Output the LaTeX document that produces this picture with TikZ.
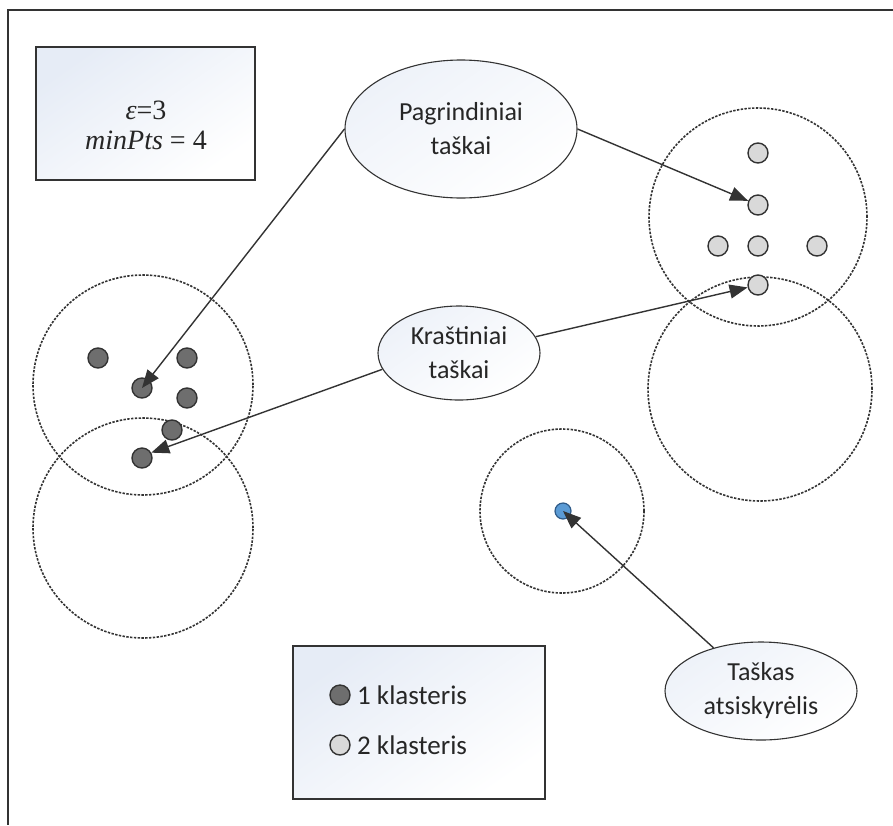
\documentclass[tikz,border=0pt]{standalone}
\usepackage{fontspec}
\setmainfont{Carlito}
\newfontfamily\paramfont{Liberation Serif}
\usetikzlibrary{shapes.geometric,arrows.meta}

\definecolor{edge}{HTML}{333333}
\definecolor{ink}{HTML}{262626}
\definecolor{darkpt}{HTML}{6E6E6E}
\definecolor{lightpt}{HTML}{D9D9D9}
\definecolor{bluept}{HTML}{5B9BD5}
\definecolor{bluerim}{HTML}{2E5A88}
\definecolor{tint}{HTML}{E6ECF6}

\tikzset{
  panel/.style={draw=edge, line width=2pt, top color=tint, bottom color=white, shading angle=35},
  bubble/.style={ellipse, draw=edge, line width=1.1pt, top color=tint!70!white, bottom color=white,
    shading angle=35, inner sep=0pt, align=center, text=ink,
    font=\fontsize{26}{34}\selectfont},
  reach/.style={draw=edge, line width=1.6pt, dash pattern=on 2.4pt off 1.4pt},
  pt/.style={circle, draw=edge, line width=1.4pt, minimum size=20pt, inner sep=0pt},
  core/.style={pt, fill=darkpt},
  other/.style={pt, fill=lightpt},
  lonely/.style={circle, draw=bluerim, line width=1.2pt, fill=bluept, minimum size=16pt, inner sep=0pt},
  arr/.style={draw=edge, line width=1.4pt, -{Triangle[length=18pt,width=14pt]}},
  label/.style={text=ink, font=\fontsize{27}{30}\selectfont, anchor=west, inner sep=0pt},
  param/.style={text=ink, font=\fontsize{28}{32}\paramfont},
}

\begin{document}
\begin{tikzpicture}[x=1pt,y=-1pt]
  \useasboundingbox (0,0) rectangle (893,825);
  \fill[white] (0,0) rectangle (893,825);

  % outer frame (top and left edges)
  \draw[edge, line width=1.5pt] (893,10) -- (8,10) -- (8,825);

  % parameter box
  \draw[panel] (36,47) rectangle (255,180);
  \node[param] (eps) at (146,110) {\itshape ε\upshape=3};
  \node[param] (minpts) at (146,140) {\itshape minPts\upshape{} = 4};

  % eps-neighbourhoods
  \draw[reach] (143,385) circle[radius=110pt];
  \draw[reach] (143,528) circle[radius=110pt];
  \draw[reach] (758,217) circle[radius=109pt];
  \draw[reach] (760,389) circle[radius=112pt];
  \draw[reach] (562,511) circle[radius=82pt];

  % cluster 1 points
  \node[core] (d1) at (98,358) {};
  \node[core] (d2) at (187,358) {};
  \node[core] (d3) at (142,388) {};
  \node[core] (d4) at (187,398) {};
  \node[core] (d5) at (172,430) {};
  \node[core] (d6) at (142,458) {};

  % cluster 2 points
  \node[other] (l1) at (758,153) {};
  \node[other] (l2) at (758,205) {};
  \node[other] (l3) at (718,246) {};
  \node[other] (l4) at (758,246) {};
  \node[other] (l5) at (817,246) {};
  \node[other] (l6) at (758,285) {};

  % noise point
  \node[lonely] (b) at (563,511) {};

  % callouts
  \node[bubble, minimum width=232pt, minimum height=138pt] (pag) at (461,129) {Pagrindiniai\\taškai};
  \node[bubble, minimum width=162pt, minimum height=94pt] (kra) at (459,353) {Kraštiniai\\taškai};
  \node[bubble, minimum width=192pt, minimum height=98pt] (tas) at (761,691) {Taškas\\atsiskyrėlis};

  % arrows
  \draw[arr] (pag.west) -- (d3.center);
  \draw[arr] (pag.east) -- (l2);
  \draw[arr] (kra.192) -- (d6.30);
  \draw[arr] (kra.12) -- (l6);
  \draw[arr] (tas) -- (b.center);

  % legend
  \draw[panel] (293,646) rectangle (545,799);
  \node[core] (k1) at (340,695) {};
  \node[other] (k2) at (340,745) {};
  \node[label] (t1) at (357,695) {1 klasteris};
  \node[label] (t2) at (357,745) {2 klasteris};
\end{tikzpicture}
\end{document}
